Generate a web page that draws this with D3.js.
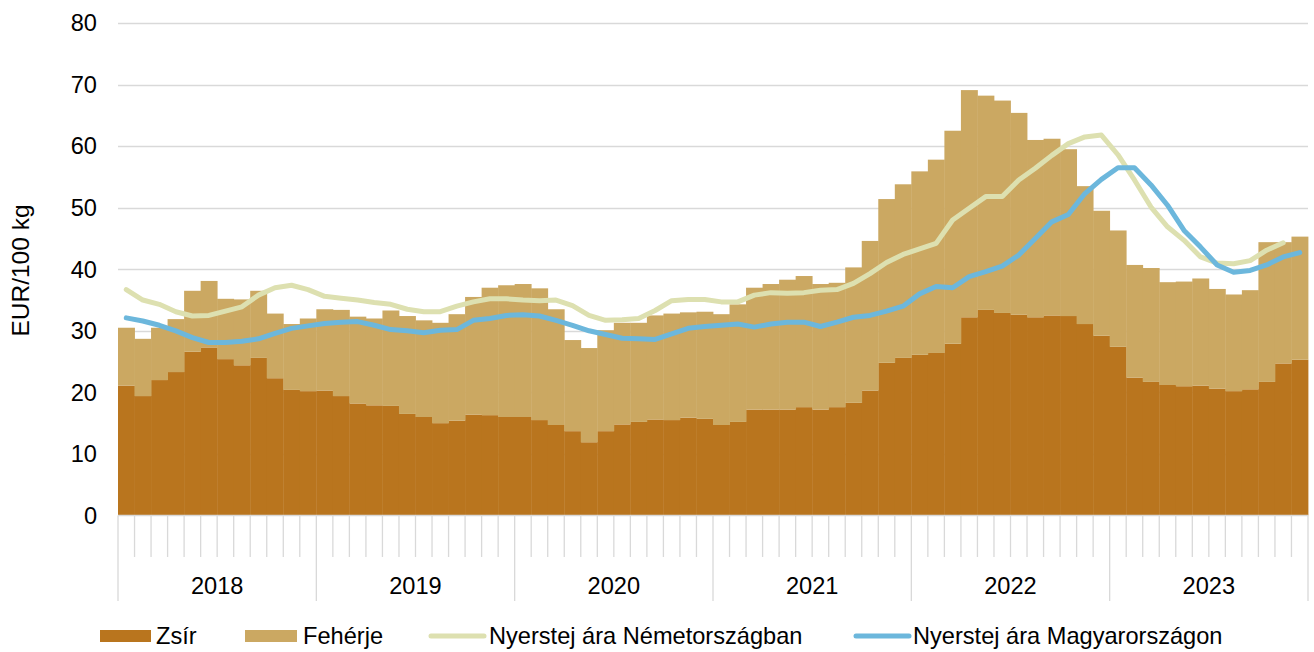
<!DOCTYPE html>
<html><head><meta charset="utf-8">
<script src="https://cdn.jsdelivr.net/npm/d3@7"></script>
<style>
html,body{margin:0;padding:0;background:#fff;}
svg{display:block;font-family:"Liberation Sans",Arial,sans-serif;}
</style></head>
<body>
<svg id="chart" width="1314" height="652"></svg>
<script>
// ---- data ----
const years = ["2018","2019","2020","2021","2022","2023"];
const yTicks = [0,10,20,30,40,50,60,70,80];
const months = d3.range(72); // Jan 2018 .. Dec 2023
const zsir = [
  21.1,19.4,22.0,23.3,26.6,27.3,25.4,24.4,25.6,22.3,20.4,20.2,
  20.3,19.4,18.2,17.9,17.8,16.5,16.0,15.0,15.4,16.4,16.3,16.0,
  16.0,15.5,14.7,13.7,11.9,13.7,14.8,15.2,15.6,15.5,15.9,15.7,
  14.7,15.2,17.2,17.2,17.2,17.6,17.2,17.6,18.3,20.3,24.8,25.6,
  26.1,26.4,27.9,32.2,33.4,32.9,32.6,32.2,32.5,32.4,31.1,29.2,
  27.4,22.4,21.7,21.2,21.0,21.1,20.6,20.2,20.5,21.7,24.7,25.3
];
const feherje = [
  9.4,9.3,8.5,8.6,9.9,10.8,9.8,10.7,10.9,10.5,10.7,11.8,
  13.2,14.0,14.1,14.1,15.5,15.9,15.7,16.3,17.3,19.1,20.7,21.4,
  21.6,21.4,18.8,14.8,15.3,16.4,16.5,16.1,16.9,17.3,17.1,17.4,
  18.0,19.1,19.8,20.4,21.1,21.3,20.4,20.2,22.0,24.3,26.6,28.2,
  29.8,31.4,34.6,36.9,34.8,34.5,32.8,28.8,28.7,27.1,22.4,20.3,
  18.9,18.3,18.5,16.7,17.0,17.4,16.2,15.7,16.1,22.7,19.7,20.0
];
const nemet = [
  36.7,35.0,34.3,33.1,32.4,32.5,33.2,33.9,35.8,37.0,37.4,36.7,
  35.6,35.3,35.0,34.6,34.3,33.5,33.1,33.1,34.0,34.7,35.2,35.2,
  35.0,34.9,35.0,34.1,32.5,31.7,31.8,32.0,33.3,34.9,35.1,35.1,
  34.7,34.7,35.8,36.2,36.1,36.2,36.6,36.7,37.7,39.3,41.1,42.4,
  43.3,44.2,48.0,49.9,51.8,51.8,54.5,56.4,58.5,60.4,61.5,61.8,
  58.6,54.5,50.1,46.9,44.7,42.0,41.0,40.9,41.4,43.1,44.3,null
];
const magyar = [
  32.1,31.6,30.9,30.0,28.9,28.1,28.1,28.3,28.7,29.6,30.4,30.8,
  31.2,31.4,31.5,30.9,30.2,30.0,29.7,30.1,30.2,31.7,32.0,32.5,
  32.6,32.4,31.7,30.9,30.0,29.4,28.8,28.7,28.6,29.5,30.4,30.7,
  30.9,31.1,30.6,31.1,31.4,31.4,30.7,31.4,32.2,32.5,33.2,34.0,
  36.0,37.2,37.0,38.8,39.6,40.5,42.3,45.0,47.7,48.9,52.3,54.6,
  56.5,56.5,53.7,50.4,46.3,43.6,40.7,39.5,39.8,40.7,42.0,42.7
];
const seriesNames = ["Zsír","Fehérje","Nyerstej ára Németországban","Nyerstej ára Magyarországon"];
const colors = {zsir:"#b9751e", feherje:"#cba862", nemet:"#dde0b0", magyar:"#6cb7dc"};

// ---- layout ----
const svg = d3.select("#chart");
const x = d3.scaleBand().domain(months).range([118,1308]).padding(0);
const y = d3.scaleLinear().domain([0,80]).range([515.5,23]);
const grid = "#d9d9d9";
const font = 23.6;

// gridlines
svg.append("g").selectAll("line").data(yTicks.filter(d=>d>0)).join("line")
  .attr("x1",118).attr("x2",1308)
  .attr("y1",d=>Math.round(y(d))+0.5).attr("y2",d=>Math.round(y(d))+0.5)
  .attr("stroke",grid).attr("stroke-width",1.3);

// y labels
svg.append("g").selectAll("text").data(yTicks).join("text")
  .attr("x",97).attr("y",d=>y(d)).attr("dy","0.35em")
  .attr("text-anchor","end").attr("font-size",font).attr("fill","#000")
  .text(d=>d);

svg.append("text").attr("transform","translate(28.5,270.5) rotate(-90)")
  .attr("text-anchor","middle").attr("font-size",24.5).attr("fill","#000")
  .text("EUR/100 kg");

// stacked bars
const stackData = months.map(i=>({i, zsir:zsir[i], feherje:feherje[i]}));
const stack = d3.stack().keys(["zsir","feherje"])(stackData);
svg.append("g").selectAll("g").data(stack).join("g")
  .attr("fill",d=>colors[d.key])
  .selectAll("rect").data(d=>d).join("rect")
  .attr("x",d=>x(d.data.i)).attr("width",x.bandwidth()+0.4)
  .attr("y",d=>y(d[1])).attr("height",d=>y(d[0])-y(d[1]));

// x axis baseline and ticks
svg.append("line").attr("x1",118).attr("x2",1308).attr("y1",515.5).attr("y2",515.5)
  .attr("stroke",grid).attr("stroke-width",1.3);
const bounds = d3.range(73);
svg.append("g").selectAll("line").data(bounds).join("line")
  .attr("x1",d=>d<72?x(d):x.range()[1]).attr("x2",d=>d<72?x(d):x.range()[1])
  .attr("y1",515.5).attr("y2",d=>d%12===0?601:557)
  .attr("stroke",grid).attr("stroke-width",1.3);

svg.append("g").selectAll("text").data(years).join("text")
  .attr("x",(d,k)=>(x(k*12)+ (k*12+12<72?x(k*12+12):x.range()[1]))/2)
  .attr("y",586).attr("dy","0.35em").attr("text-anchor","middle")
  .attr("font-size",font).attr("fill","#000").text(d=>d);

// lines
const line = d3.line().defined(d=>d.v!=null)
  .x(d=>x(d.i)+x.bandwidth()/2).y(d=>y(d.v));
svg.append("path").datum(months.map(i=>({i,v:nemet[i]})))
  .attr("d",line).attr("fill","none").attr("stroke",colors.nemet)
  .attr("stroke-width",5).attr("stroke-linejoin","round").attr("stroke-linecap","round");
svg.append("path").datum(months.map(i=>({i,v:magyar[i]})))
  .attr("d",line).attr("fill","none").attr("stroke",colors.magyar)
  .attr("stroke-width",5).attr("stroke-linejoin","round").attr("stroke-linecap","round");

// legend
const lg = svg.append("g");
const ly = 636;
const legendItems = [
  {type:"rect", key:"zsir", x1:100, x2:151, tx:156, name:seriesNames[0]},
  {type:"rect", key:"feherje", x1:245, x2:297, tx:303, name:seriesNames[1]},
  {type:"line", key:"nemet", x1:431, x2:484, tx:489, name:seriesNames[2]},
  {type:"line", key:"magyar", x1:856, x2:909, tx:913, name:seriesNames[3]}
];
legendItems.forEach(it=>{
  if(it.type==="rect"){
    lg.append("rect").attr("x",it.x1).attr("y",ly-6).attr("width",it.x2-it.x1).attr("height",12)
      .attr("fill",colors[it.key]);
  } else {
    lg.append("line").attr("x1",it.x1).attr("x2",it.x2).attr("y1",ly).attr("y2",ly)
      .attr("stroke",colors[it.key]).attr("stroke-width",5).attr("stroke-linecap","round");
  }
  lg.append("text").attr("x",it.tx).attr("y",ly).attr("dy","0.35em")
    .attr("font-size",font).attr("fill","#000").text(it.name);
});
</script>
</body></html>
